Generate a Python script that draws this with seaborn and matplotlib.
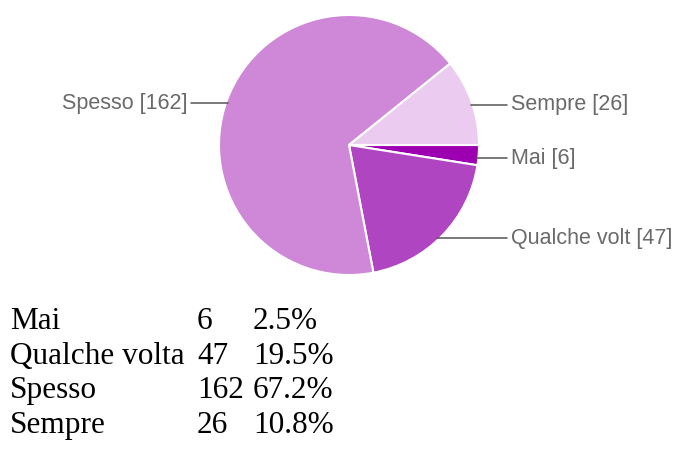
import numpy as np
import matplotlib
matplotlib.use("Agg")
import matplotlib.pyplot as plt
import seaborn as sns

# Survey answers (order as drawn, clockwise from 3 o'clock)
answers = ["Mai", "Qualche volta", "Spesso", "Sempre"]
chart_labels = ["Mai", "Qualche volt", "Spesso", "Sempre"]  # truncated in the chart
counts = [6, 47, 162, 26]
slice_colors = ["#9c00b0", "#b045c1", "#ce88d7", "#ebcbf0"]

# layout in pixels (figure is 678 x 470)
W, H = 678, 470
CX, CY, R = 349, 145, 130

sns.set_theme(style="white")
plt.rcParams["font.family"] = ["Liberation Sans", "DejaVu Sans"]

fig = plt.figure(figsize=(W / 100, H / 100), dpi=100)
ax = fig.add_axes([0, 0, 1, 1])

wedges, _ = ax.pie(
    counts,
    colors=slice_colors,
    startangle=0,
    counterclock=False,
    center=(CX, H - CY),
    radius=R,
    wedgeprops={"edgecolor": "white", "linewidth": 1.5},
)
ax.set_xlim(0, W)
ax.set_ylim(0, H)
ax.set_aspect("equal")
ax.axis("off")

# labels with horizontal leader lines
for wedge, label, n in zip(wedges, chart_labels, counts):
    mid = np.deg2rad((wedge.theta1 + wedge.theta2) / 2)
    y = (H - CY) + R * np.sin(mid) - 3
    side = 1 if np.cos(mid) > 0 else -1
    dx = np.sqrt(max(R ** 2 - (y - (H - CY)) ** 2, 0))
    ax.plot([CX + side * (dx - 2), CX + side * 158], [y, y], color="#555555", lw=1.1)
    ax.text(
        CX + side * 162, y, f"{label} [{n}]",
        ha="left" if side > 0 else "right", va="center",
        fontsize=15.5, color="#6a6a6a",
    )

# summary table under the chart
total = sum(counts)
row_y = [329, 364, 398, 433]
for name, n, y in zip(answers, counts, row_y):
    for x, s in [(10, name), (197, str(n)), (253, f"{n / total * 100:.1f}%")]:
        ax.text(x, H - y, s, ha="left", va="baseline", fontsize=22.5,
                color="black", family=["Liberation Serif", "DejaVu Serif"])

fig.savefig("out.png", dpi=100)
plt.close(fig)
